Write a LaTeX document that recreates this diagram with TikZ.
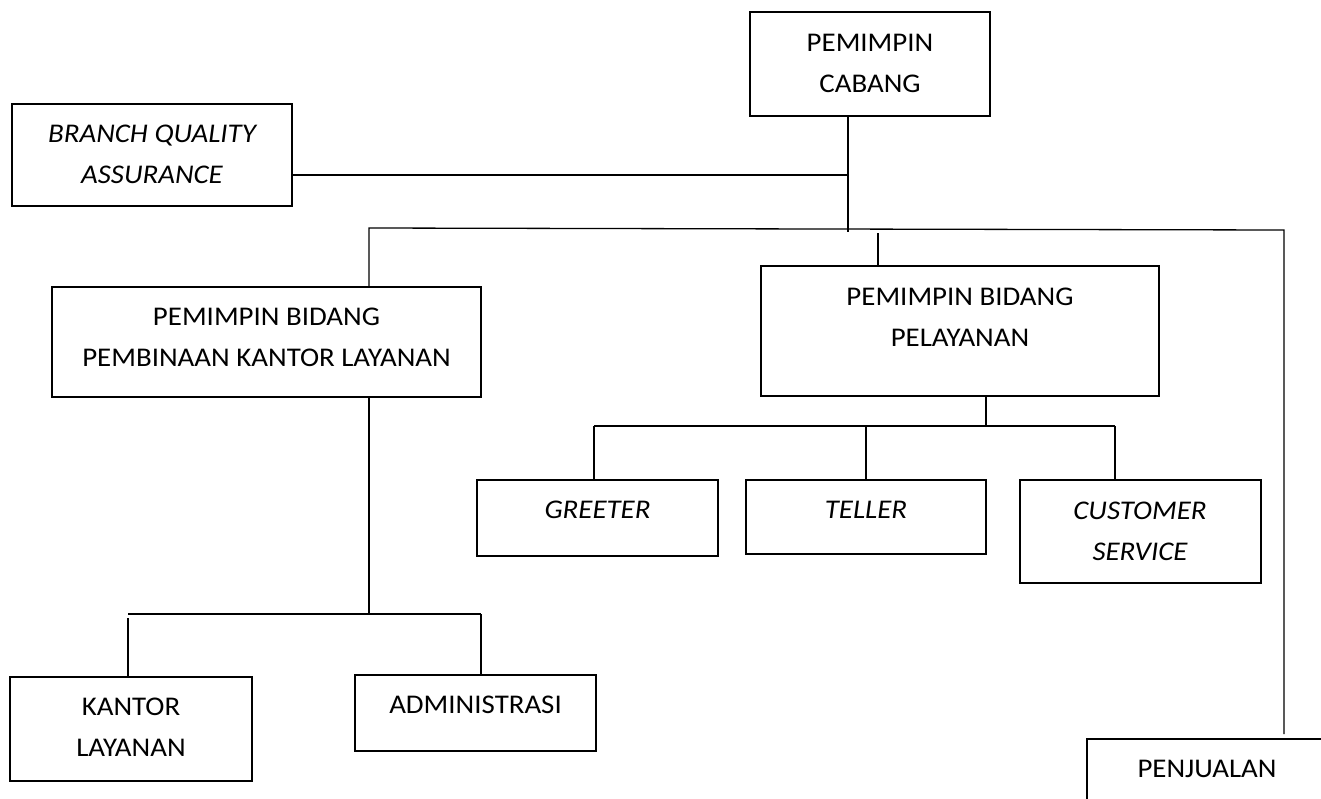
\documentclass[tikz,border=0pt]{standalone}
\usepackage{fontspec}
\setmainfont{Carlito}[FakeStretch=1.07]
\begin{document}
\begin{tikzpicture}[x=1pt,y=-1pt,
  box/.style={draw, line width=1.8pt, inner sep=0pt},
  lbl/.style={align=center, inner sep=0pt, font=\fontsize{27}{41}\selectfont},
  ilbl/.style={lbl, font=\fontsize{27}{41}\selectfont\itshape},
  conn/.style={line width=1.3pt}]
\useasboundingbox (0,0) rectangle (1321,798);
% boxes
\node[box, minimum width=240pt, minimum height=104pt] (pc) at (870,64) {};
\node[lbl] (pct) at (870,63) {PEMIMPIN\\CABANG};
\node[box, minimum width=280pt, minimum height=102pt] (bqa) at (152,155) {};
\node[ilbl] (bqat) at (152,154) {BRANCH QUALITY\\ASSURANCE};
\node[box, minimum width=429pt, minimum height=110pt] (pbpkl) at (266.5,342) {};
\node[lbl] (pbpklt) at (266.5,337.5) {PEMIMPIN BIDANG\\PEMBINAAN KANTOR LAYANAN};
\node[box, minimum width=398pt, minimum height=130pt] (pbp) at (960,331) {};
\node[lbl] (pbpt) at (960,317.5) {PEMIMPIN BIDANG\\PELAYANAN};
\node[box, minimum width=241pt, minimum height=76pt] (greeter) at (597.5,518) {};
\node[ilbl] (greetert) at (597.5,510) {GREETER};
\node[box, minimum width=240pt, minimum height=74pt] (teller) at (866,517) {};
\node[ilbl] (tellert) at (866,510) {TELLER};
\node[box, minimum width=241pt, minimum height=103pt] (cs) at (1140.5,531.5) {};
\node[ilbl] (cst) at (1140,531) {CUSTOMER\\SERVICE};
\node[box, minimum width=242pt, minimum height=104pt] (kl) at (131,729) {};
\node[lbl] (klt) at (131,727.5) {KANTOR\\LAYANAN};
\node[box, minimum width=241pt, minimum height=76pt] (admin) at (475.5,713) {};
\node[lbl] (admint) at (475.5,705) {ADMINISTRASI};
\node[box, minimum width=240pt, minimum height=100pt] (penj) at (1207,789) {};
\node[lbl] (penjt) at (1207,769) {PENJUALAN};
% junctions
\coordinate (j0) at (848,175);
\coordinate (j1) at (848,232);
\coordinate (bl) at (369,228);
\coordinate (br) at (1284,230);
\coordinate (pt) at (878,233);
\coordinate (b2) at (369,614);
\coordinate (b2l) at (128,614);
\coordinate (b2r) at (481,614);
\coordinate (b3) at (986,426);
\coordinate (b3l) at (594,426);
\coordinate (b3m) at (866,426);
\coordinate (b3r) at (1115,426);
% connectors
\draw[conn] (pc.south -| j0) -- (j1);
\draw[conn] (bqa.east |- j0) -- (j0);
\draw[conn] (pbpkl.north -| bl) -- (bl) -- (br) -- ([yshift=4pt]penj.north -| br);
\draw[conn] (pt) -- (pbp.north -| pt);
\draw[conn] (pbpkl.south -| b2) -- (b2);
\draw[conn] (b2l) -- (b2r);
\draw[conn] ([yshift=-4pt]b2l) -- (kl.north -| b2l);
\draw[conn] (b2r) -- (admin.north -| b2r);
\draw[conn] (pbp.south -| b3) -- (b3);
\draw[conn] (b3l) -- (b3r);
\draw[conn] (b3l) -- (greeter.north -| b3l);
\draw[conn] (b3m) -- (teller.north -| b3m);
\draw[conn] (b3r) -- (cs.north -| b3r);
\end{tikzpicture}
\end{document}
